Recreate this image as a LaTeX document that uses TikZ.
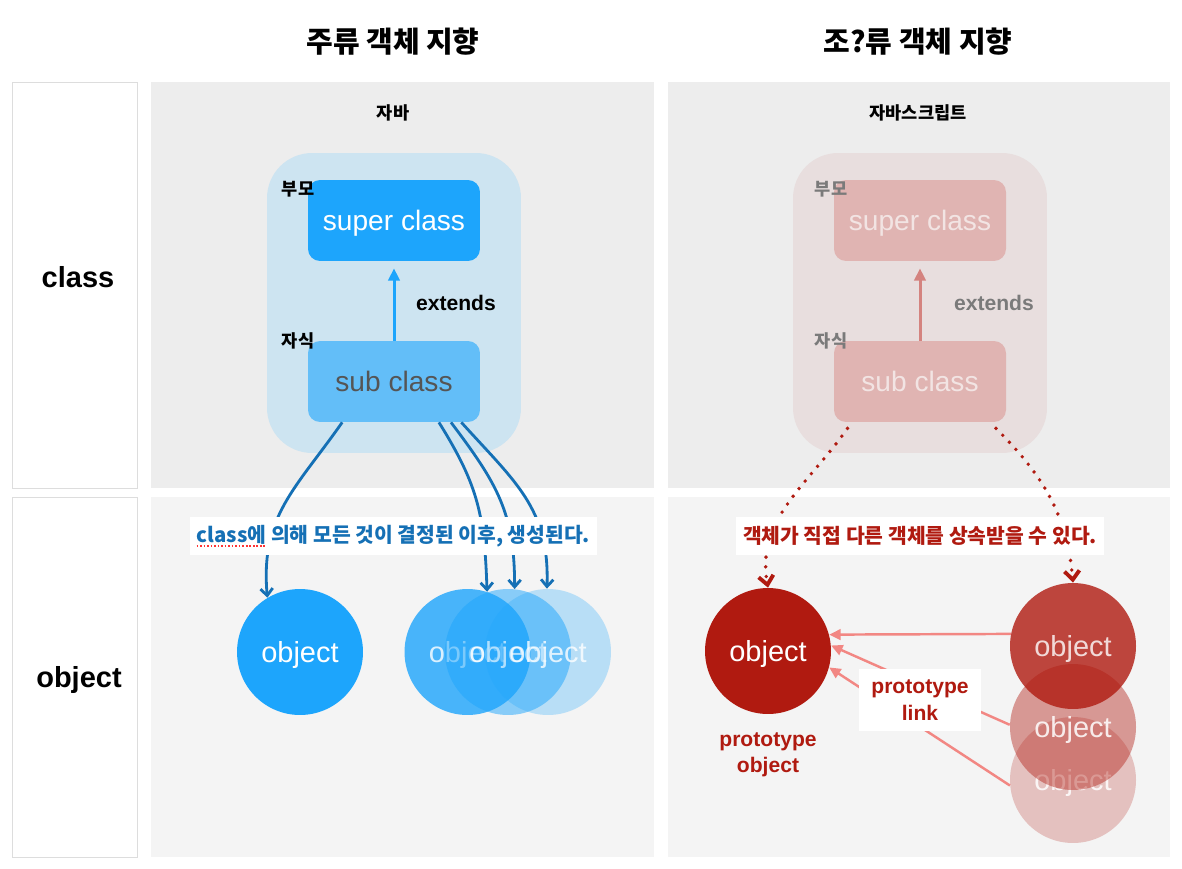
\documentclass[tikz,border=0pt]{standalone}
\usepackage{fontspec}
\setmainfont{Liberation Sans}
\newfontfamily\kr{Noto Sans CJK KR}
\usetikzlibrary{positioning, arrows.meta, calc}

\definecolor{panelTop}{HTML}{EDEDED}
\definecolor{panelBot}{HTML}{F4F4F4}
\definecolor{rowLine}{HTML}{DDDDDD}
\definecolor{javaBg}{HTML}{CDE4F1}
\definecolor{javaBlue}{HTML}{1DA5FC}
\definecolor{javaSub}{HTML}{63BEF8}
\definecolor{javaGray}{HTML}{555555}
\definecolor{javaDark}{HTML}{1570B5}
\definecolor{jsBg}{HTML}{E8DEDE}
\definecolor{jsBox}{HTML}{E0B4B2}
\definecolor{jsBoxText}{HTML}{F2E4E3}
\definecolor{jsGray}{HTML}{7A7A7A}
\definecolor{jsRed}{HTML}{B01A10}
\definecolor{jsLink}{HTML}{F28783}
\definecolor{jsArrow}{HTML}{D4837F}

\begin{document}
\begin{tikzpicture}[
    x=0.02cm, y=-0.02cm,
    title/.style={font=\kr\bfseries\fontsize{16.5}{19}\selectfont},
    rowbox/.style={rectangle, draw=rowLine, fill=white, minimum width=2.5cm},
    rowlbl/.style={font=\bfseries\fontsize{16.5}{20}\selectfont},
    panel/.style={rectangle, minimum width=10.06cm, inner sep=0pt},
    lang/.style={font=\kr\bfseries\fontsize{10}{12}\selectfont},
    group/.style={rectangle, rounded corners=0.9cm, minimum width=5.08cm, minimum height=6cm},
    clsbox/.style={rectangle, rounded corners=0.24cm, minimum width=3.44cm, minimum height=1.62cm, text depth=0pt, font=\fontsize{16}{19}\selectfont},
    tag/.style={font=\kr\bfseries\fontsize{10}{12}\selectfont},
    extlbl/.style={font=\bfseries\fontsize{12}{14}\selectfont},
    obj/.style={circle, minimum size=2.52cm, inner sep=0pt, text=white, text depth=0pt, font=\fontsize{16.5}{19}\selectfont},
    note/.style={rectangle, fill=white, minimum height=0.76cm, inner xsep=0.14cm, font=\kr\bfseries\fontsize{11.6}{14}\selectfont},
    redlbl/.style={text=jsRed, align=center, font=\bfseries\fontsize{12}{15}\selectfont},
    made/.style={draw=javaDark, line width=1.6pt, -{Straight Barb[length=4pt,width=7pt]}},
    inherit/.style={draw=jsRed, line width=2.2pt, line cap=round, dash pattern=on 0pt off 5.5pt, -{Straight Barb[length=5pt,width=8.5pt]}},
    protolink/.style={draw=jsLink, line width=1.4pt, -{Triangle[length=6.5pt,width=6pt]}}
]
    \useasboundingbox (0,0) rectangle (1182,868);
    \fill[white] (0,0) rectangle (1182,868);

    % Titles
    \node[title] (titleJava) at (393,42) {주류 객체 지향};
    \node[title] (titleJs) at (918,42) {조?류 객체 지향};

    % Row labels
    \node[rowbox, minimum height=8.12cm] (rowCls) at (74.5,285) {};
    \node[rowbox, minimum height=7.2cm] (rowObj) at (74.5,677) {};
    \node[rowlbl] (rowClsLbl) at (78,277) {class};
    \node[rowlbl] (rowObjLbl) at (79,680) {object};

    % Panels
    \node[panel, fill=panelTop, minimum height=8.12cm] (javaTop) at (402.5,285) {};
    \node[panel, fill=panelBot, minimum height=7.2cm] (javaBot) at (402.5,677) {};
    \node[panel, fill=panelTop, minimum height=8.12cm] (jsTop) at (919,285) {};
    \node[panel, fill=panelBot, minimum height=7.2cm] (jsBot) at (919,677) {};

    \node[lang] (langJava) at (393,113) {자바};
    \node[lang] (langJs) at (918,113) {자바스크립트};

    % Java classes
    \node[group, fill=javaBg] (grpJava) at (394,303) {};
    \node[clsbox, fill=javaBlue, text=white] (superJava) at (394,220.5) {super class};
    \node[clsbox, fill=javaSub, text=javaGray] (subJava) at (394,381.5) {sub class};
    \node[tag] (parentJava) at (298,189) {부모};
    \node[tag] (childJava) at (298,341) {자식};
    \draw[draw=javaBlue, line width=1.7pt, -{Triangle[length=7pt,width=6.5pt]}, shorten >=4pt] (subJava) -- (superJava);
    \node[extlbl] (extJava) at (456,303) {extends};

    % Java objects
    \node[obj, fill=javaBlue] (objJava) at (300,652) {object};
    \node[obj, fill=javaBlue, fill opacity=0.8] (objA) at (467.5,652) {object};
    \node[obj, fill=javaBlue, fill opacity=0.5, text opacity=0.9] (objB) at (508,652) {object};
    \node[obj, fill=javaBlue, fill opacity=0.28, text opacity=0.8] (objC) at (548,652) {object};

    \coordinate (srcA) at ($(subJava.south west)!0.2!(subJava.south east)$);
    \coordinate (srcB) at ($(subJava.south west)!0.76!(subJava.south east)$);
    \coordinate (srcC) at ($(subJava.south west)!0.83!(subJava.south east)$);
    \coordinate (srcD) at ($(subJava.south west)!0.89!(subJava.south east)$);
    \draw[made] (srcA) to[out=235, in=95, looseness=1.1] (objJava.121);
    \draw[made] (srcB) to[out=-58, in=92, looseness=1.1] (objA.72);
    \draw[made] (srcC) to[out=-53, in=90, looseness=1.1] (objB.84);
    \draw[made] (srcD) to[out=-48, in=88, looseness=1.1] (objC.91);

    \node[note, text=javaDark] (noteJava) at (393.5,536) {class에 의해 모든 것이 결정된 이후, 생성된다.};
    \draw[red!80, line width=0.8pt, dash pattern=on 1pt off 1pt] ($(noteJava.west)+(7,10)$) -- ++(68,0);

    % JavaScript classes
    \node[group, fill=jsBg] (grpJs) at (920,303) {};
    \node[clsbox, fill=jsBox, text=jsBoxText] (superJs) at (920,220.5) {super class};
    \node[clsbox, fill=jsBox, text=jsBoxText] (subJs) at (920,381.5) {sub class};
    \node[tag, text=jsGray] (parentJs) at (831,189) {부모};
    \node[tag, text=jsGray] (childJs) at (831,341) {자식};
    \draw[draw=jsArrow, line width=1.7pt, -{Triangle[length=7pt,width=6.5pt]}, shorten >=4pt] (subJs) -- (superJs);
    \node[extlbl, text=jsGray] (extJs) at (994,303) {extends};

    % JavaScript objects
    \node[obj, fill=jsRed] (protoObj) at (768,651) {object};
    \node[obj, fill=jsRed, fill opacity=0.23, text opacity=0.85] (objJs3) at (1073,780) {object};
    \node[obj, fill=jsRed, fill opacity=0.42, text opacity=0.85] (objJs2) at (1073,727) {object};
    \node[obj, fill=jsRed, fill opacity=0.8] (objJs1) at (1073,646) {object};
    \node[redlbl] (protoLbl) at (768,755) {prototype\\object};

    \coordinate (srcL) at ($(subJs.south west)!0.08!(subJs.south east)+(0,6)$);
    \coordinate (srcR) at ($(subJs.south west)!0.94!(subJs.south east)+(0,6)$);
    \draw[inherit] (srcL) to[out=235, in=100] (protoObj.north);
    \draw[inherit] (srcR) to[out=-45, in=95] (objJs1.north);

    \node[note, text=jsRed] (noteJs) at (920,536) {객체가 직접 다른 객체를 상속받을 수 있다.};

    \draw[protolink] (objJs1.169) -- (protoObj.15);
    \draw[protolink] (objJs2.178) -- (protoObj.5);
    \draw[protolink] (objJs3.185) -- (protoObj.-15);
    \node[redlbl, fill=white, minimum width=2.44cm, minimum height=1.24cm] (linkLbl) at (920,700) {prototype\\link};
\end{tikzpicture}
\end{document}
